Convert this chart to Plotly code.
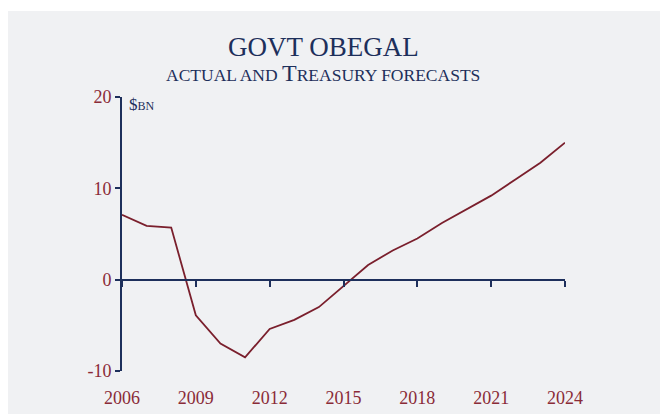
import plotly.graph_objects as go

years = list(range(2006, 2025))
obegal = [7.1, 5.9, 5.7, -3.9, -7.0, -8.5, -5.4, -4.4, -3.0, -0.7, 1.6, 3.2, 4.5, 6.2, 7.7, 9.2, 11.0, 12.8, 15.0]
x_ticks = [2006, 2009, 2012, 2015, 2018, 2021, 2024]
y_ticks = [-10, 0, 10, 20]
y_ticktext = ["-10", "0", "10", "20"]

NAVY = "#1d2f5b"
MAROON = "#7a1f2c"
LABEL = "#8a2b37"
BG = "#f0f1f3"
FONT = "Liberation Serif"

W, H = 660, 414
L, R, T, B = 122, 95, 97, 43
pw, ph = W - L - R, H - T - B

def px(x):
    return (x - L) / pw

def py(y):
    return (H - B - y) / ph

fig = go.Figure()
fig.add_trace(go.Scatter(x=years, y=obegal, mode="lines",
                         line=dict(color=MAROON, width=1.8),
                         hoverinfo="skip", showlegend=False))
fig.add_trace(go.Scatter(x=[years[0], years[-1]], y=[0, 0], xaxis="x2", yaxis="y",
                         mode="lines", line=dict(width=0, color="rgba(0,0,0,0)"),
                         hoverinfo="skip", showlegend=False))

fig.update_layout(
    width=W, height=H,
    margin=dict(l=L, r=R, t=T, b=B, autoexpand=False),
    paper_bgcolor="white",
    plot_bgcolor=BG,
    font=dict(family=FONT, color=LABEL),
    xaxis=dict(range=[2006, 2024], tickvals=x_ticks, showline=False, showgrid=False,
               zeroline=False, ticks="outside", ticklen=10, tickcolor="rgba(0,0,0,0)",
               automargin=False,
               tickfont=dict(size=18, color=LABEL, family=FONT)),
    xaxis2=dict(matches="x", overlaying="x", anchor="free", position=1/3,
                tickvals=x_ticks, showticklabels=False, ticks="outside", ticklen=6,
                tickwidth=2, tickcolor=NAVY, showline=True, linecolor=NAVY, linewidth=2,
                showgrid=False, zeroline=False, automargin=False),
    yaxis=dict(range=[-10, 20], tickvals=y_ticks, ticktext=y_ticktext, showline=True,
               linecolor=NAVY, linewidth=2, ticks="outside", ticklen=5, tickwidth=2,
               tickcolor=NAVY, showgrid=False, zeroline=False, automargin=False,
               tickfont=dict(size=18, color=LABEL, family=FONT)),
    shapes=[dict(type="rect", xref="paper", yref="paper", x0=px(8), x1=px(W + 5),
                 y0=py(H + 5), y1=py(11), fillcolor=BG, line=dict(width=0), layer="below")],
    annotations=[
        dict(text="GOVT OBEGAL", xref="paper", yref="paper", x=px(323), y=py(46.5),
             xanchor="center", yanchor="middle", showarrow=False,
             font=dict(size=27, color=NAVY, family=FONT)),
        dict(text="ACTUAL AND <span style='font-size:24px'>T</span>REASURY FORECASTS",
             xref="paper", yref="paper", x=px(323), y=py(73),
             xanchor="center", yanchor="middle", showarrow=False,
             font=dict(size=17.5, color=NAVY, family=FONT)),
        dict(text="$<span style='font-size:12px'>BN</span>", xref="paper", yref="paper",
             x=px(127), y=py(104), xanchor="left", yanchor="middle", showarrow=False,
             font=dict(size=17, color=NAVY, family=FONT)),
    ],
)

fig.write_html("out.html")
